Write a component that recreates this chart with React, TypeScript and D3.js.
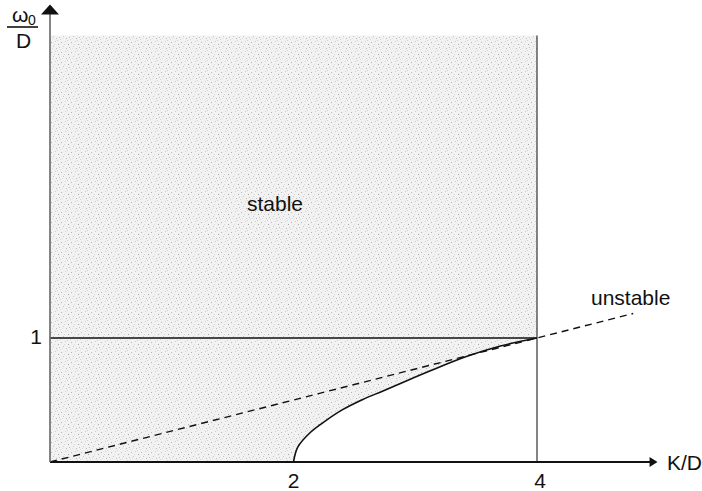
import * as d3 from "d3";

// stability boundary (K/D, omega0/D)
const curveK = [2.0, 2.035, 2.14, 2.26, 2.4, 2.56, 2.74, 2.94, 3.16, 3.42, 3.7, 4.0];
const curveW = [0, 0.12, 0.24, 0.33, 0.42, 0.5, 0.575, 0.66, 0.75, 0.85, 0.935, 1.0];

const xTicks = [2, 4];
const yTicks = [1];
const dashedEnd = 4.79; // dashed line w = K/4 runs out to here
const regionTop = 3.44; // top of shaded box
const xMax = 4.99;
const yMax = 3.69;

// speckle dots for the stippled fill
const speckle: [number, number, string][] = [
  [1, 2, "#b8b8b8"], [5, 1, "#cfcfcf"], [8, 4, "#a8a8a8"], [3, 6, "#c8c8c8"],
  [6, 8, "#bcbcbc"], [0, 9, "#d8d8d8"], [9, 7, "#c4c4c4"], [4, 4, "#dadada"],
  [7, 0, "#d0d0d0"], [2, 8, "#e0e0e0"],
];

const App = () => {
  const x = d3.scaleLinear().domain([0, 5]).range([50, 658.75]);
  const y = d3.scaleLinear().domain([0, 1]).range([462, 338]);

  const pts: [number, number][] = curveK.map((k, i) => [k, curveW[i]]);

  const line = d3
    .line<[number, number]>()
    .x((d) => x(d[0]))
    .y((d) => y(d[1]))
    .curve(d3.curveCatmullRom.alpha(0.5));

  const boundary = line(pts) || "";
  const rev = line([...pts].reverse()) || "";

  // shaded region: box minus the pocket under the boundary curve
  const shaded =
    `M${x(0)},${y(regionTop)}L${x(4)},${y(regionTop)}L${x(4)},${y(1)}` +
    rev.replace(/^M[^LC]*/, "") +
    `L${x(0)},${y(0)}Z`;

  const font = "'Liberation Sans', Arial, sans-serif";

  return (
    <svg
      width={702}
      height={491}
      style={{ position: "absolute", left: 0, top: 0, background: "#fff" }}
      fontFamily={font}
    >
      <defs>
        <pattern id="stipple" width={10} height={10} patternUnits="userSpaceOnUse">
          <rect width={10} height={10} fill="#f2f2f2" />
          {speckle.map(([px, py, c], i) => (
            <rect key={i} x={px} y={py} width={1} height={1} fill={c} />
          ))}
        </pattern>
      </defs>

      <path d={shaded} fill="url(#stipple)" stroke="none" />

      {/* w = 1 line */}
      <line x1={x(0)} x2={x(4)} y1={y(1)} y2={y(1)} stroke="#111" strokeWidth={1.6} />
      {/* K/D = 4 line */}
      <line x1={x(4)} x2={x(4)} y1={y(regionTop)} y2={y(0)} stroke="#333" strokeWidth={1.2} />

      {/* dashed w = K/4 */}
      <line
        x1={x(0)}
        y1={y(0)}
        x2={x(dashedEnd)}
        y2={y(dashedEnd / 4)}
        stroke="#111"
        strokeWidth={1.4}
        strokeDasharray="7,5"
      />

      <path d={boundary} fill="none" stroke="#111" strokeWidth={1.6} />

      {/* axes */}
      <line x1={x(0)} x2={x(xMax) - 6} y1={y(0)} y2={y(0)} stroke="#111" strokeWidth={1.8} />
      <path
        d={`M${x(xMax)},${y(0)}L${x(xMax) - 8},${y(0) - 5}L${x(xMax) - 8},${y(0) + 5}Z`}
        fill="#111"
      />
      <line x1={x(0)} x2={x(0)} y1={y(0)} y2={y(yMax) + 8} stroke="#666" strokeWidth={1.6} />
      <path
        d={`M${x(0)},${y(yMax)}L${x(0) - 9},${y(yMax) + 10}L${x(0) + 9},${y(yMax) + 10}Z`}
        fill="#111"
      />

      {/* ticks */}
      {xTicks.map((t) => (
        <text key={t} x={x(t) + (t === 4 ? 3 : 0)} y={488} fontSize={21} textAnchor="middle" fill="#111">
          {t}
        </text>
      ))}
      {yTicks.map((t) => (
        <text key={t} x={42} y={y(t) + 6} fontSize={21} textAnchor="end" fill="#111">
          {t}
        </text>
      ))}

      {/* axis labels */}
      <text x={667} y={470} fontSize={21} fill="#111">K/D</text>
      <text x={12} y={22} fontSize={21} fill="#111">ω</text>
      <text x={28} y={25} fontSize={14} fill="#111">0</text>
      <line x1={7} x2={38} y1={27} y2={27} stroke="#111" strokeWidth={1.6} />
      <text x={16} y={48} fontSize={21} fill="#111">D</text>

      <text x={247} y={211} fontSize={21} fill="#111">stable</text>
      <text x={591} y={305} fontSize={21} fill="#111">unstable</text>
    </svg>
  );
};

export default App;
